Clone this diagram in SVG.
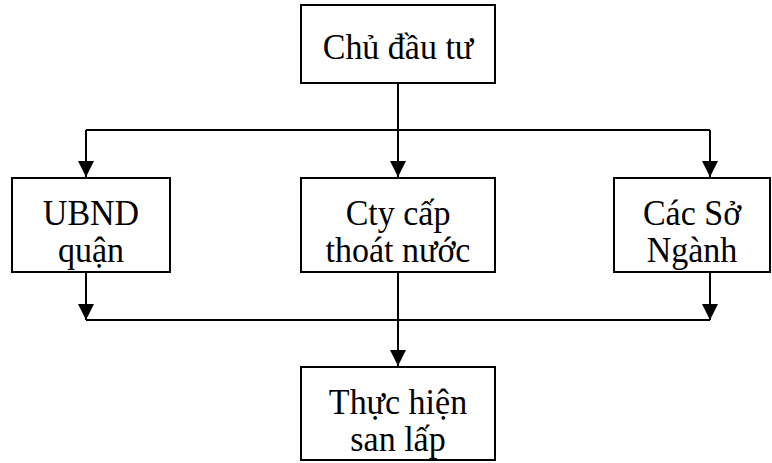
<svg xmlns="http://www.w3.org/2000/svg" width="772" height="463" viewBox="0 0 772 463">
<style>
.box{fill:#fff;stroke:#000;stroke-width:2}
.t{font-family:"Liberation Serif","Times New Roman",serif;font-size:34px;fill:#000;text-anchor:middle}
.ln{fill:none;stroke:#000;stroke-width:2}
</style>
<defs>
<marker id="ah" markerUnits="userSpaceOnUse" markerWidth="16" markerHeight="16" viewBox="0 0 16 16" refX="16" refY="8" orient="auto">
<path d="M0,0 L16,8 L0,16 Z" fill="#000"/>
</marker>
</defs>
<g id="connectors">
<path class="ln" d="M398,83 V130"/>
<path class="ln" d="M86,130 H710"/>
<path class="ln" d="M86,130 V177" marker-end="url(#ah)"/>
<path class="ln" d="M398,130 V177" marker-end="url(#ah)"/>
<path class="ln" d="M710,130 V177" marker-end="url(#ah)"/>
<path class="ln" d="M86,272 V320" marker-end="url(#ah)"/>
<path class="ln" d="M710,272 V320" marker-end="url(#ah)"/>
<path class="ln" d="M86,320 H710"/>
<path class="ln" d="M398,272 V366" marker-end="url(#ah)"/>
</g>
<g id="chu-dau-tu">
<rect class="box" x="301" y="5" width="194" height="78"/>
<text class="t" transform="translate(398,59) scale(1,1.06)">Chủ đầu tư</text>
</g>
<g id="ubnd-quan">
<rect class="box" x="12" y="178" width="158" height="94"/>
<text class="t" transform="translate(91,225) scale(1,1.06)">UBND</text>
<text class="t" transform="translate(91,262) scale(1,1.06)">quận</text>
</g>
<g id="cty-cap-thoat-nuoc">
<rect class="box" x="301" y="178" width="194" height="94"/>
<text class="t" transform="translate(398,225) scale(1,1.06)">Cty cấp</text>
<text class="t" transform="translate(398,262) scale(1,1.06)">thoát nước</text>
</g>
<g id="cac-so-nganh">
<rect class="box" x="614" y="178" width="156" height="94"/>
<text class="t" transform="translate(692,225) scale(1,1.06)">Các Sở</text>
<text class="t" transform="translate(692,262) scale(1,1.06)">Ngành</text>
</g>
<g id="thuc-hien-san-lap">
<rect class="box" x="301" y="367" width="194" height="93"/>
<text class="t" transform="translate(398,414) scale(1,1.06)">Thực hiện</text>
<text class="t" transform="translate(398,451) scale(1,1.06)">san lấp</text>
</g>
</svg>
